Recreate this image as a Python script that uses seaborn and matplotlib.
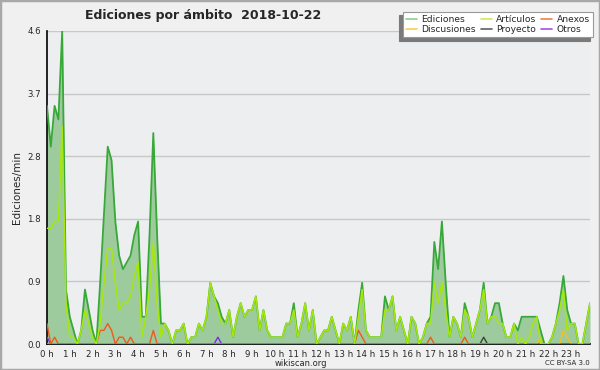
import numpy as np
import pandas as pd
import matplotlib
matplotlib.use('Agg')
import matplotlib.pyplot as plt
from matplotlib.lines import Line2D
from matplotlib.patches import Rectangle
import seaborn as sns

# 10-minute bins over the day, values in edits per minute
ediciones = [3.5, 2.9, 3.5, 3.3, 4.6, 0.8, 0.4, 0.2, 0.0, 0.2, 0.8, 0.5, 0.2, 0.0, 0.9, 1.9, 2.9, 2.7,
             1.8, 1.3, 1.1, 1.2, 1.3, 1.6, 1.8, 0.4, 0.4, 1.6, 3.1, 1.6, 0.3, 0.3, 0.2, 0.0, 0.2, 0.2,
             0.3, 0.0, 0.1, 0.1, 0.3, 0.2, 0.4, 0.9, 0.7, 0.6, 0.4, 0.3, 0.5, 0.1, 0.4, 0.6, 0.4, 0.5,
             0.5, 0.7, 0.2, 0.5, 0.2, 0.1, 0.1, 0.1, 0.1, 0.3, 0.3, 0.6, 0.1, 0.3, 0.6, 0.2, 0.5, 0.0,
             0.1, 0.2, 0.2, 0.4, 0.2, 0.0, 0.3, 0.2, 0.4, 0.0, 0.5, 0.9, 0.2, 0.1, 0.1, 0.1, 0.1, 0.7,
             0.5, 0.7, 0.2, 0.4, 0.2, 0.0, 0.4, 0.3, 0.0, 0.1, 0.3, 0.4, 1.5, 1.1, 1.8, 0.9, 0.1, 0.4,
             0.3, 0.1, 0.6, 0.4, 0.1, 0.3, 0.5, 0.9, 0.3, 0.4, 0.6, 0.6, 0.3, 0.1, 0.1, 0.3, 0.2, 0.4,
             0.4, 0.4, 0.4, 0.4, 0.2, 0.0, 0.0, 0.1, 0.3, 0.6, 1.0, 0.5, 0.3, 0.3, 0.0, 0.0, 0.3, 0.6]
articulos = [1.7, 1.7, 1.8, 1.8, 3.2, 0.6, 0.1, 0.1, 0.0, 0.2, 0.5, 0.3, 0.1, 0.0, 0.3, 0.9, 1.4, 1.4,
             0.9, 0.5, 0.6, 0.6, 0.7, 1.0, 1.2, 0.1, 0.4, 0.8, 1.5, 0.6, 0.1, 0.3, 0.2, 0.0, 0.2, 0.2,
             0.3, 0.0, 0.1, 0.1, 0.3, 0.2, 0.4, 0.9, 0.7, 0.5, 0.3, 0.3, 0.5, 0.1, 0.4, 0.6, 0.4, 0.5,
             0.5, 0.7, 0.2, 0.5, 0.2, 0.1, 0.1, 0.1, 0.1, 0.3, 0.3, 0.5, 0.1, 0.3, 0.6, 0.2, 0.5, 0.0,
             0.1, 0.2, 0.2, 0.4, 0.2, 0.0, 0.3, 0.2, 0.4, 0.0, 0.4, 0.8, 0.2, 0.1, 0.1, 0.1, 0.1, 0.5,
             0.5, 0.7, 0.2, 0.4, 0.2, 0.0, 0.4, 0.3, 0.0, 0.1, 0.3, 0.3, 0.9, 0.6, 0.9, 0.5, 0.1, 0.4,
             0.3, 0.1, 0.5, 0.4, 0.1, 0.3, 0.5, 0.8, 0.3, 0.4, 0.4, 0.3, 0.3, 0.1, 0.1, 0.3, 0.0, 0.1,
             0.0, 0.1, 0.3, 0.4, 0.0, 0.0, 0.0, 0.1, 0.3, 0.5, 0.8, 0.2, 0.3, 0.3, 0.0, 0.0, 0.3, 0.6]
n = len(ediciones)
anexos = [0.0] * n
for k, v in {0: 0.3, 2: 0.1, 14: 0.2, 15: 0.2, 16: 0.3, 17: 0.2, 19: 0.1, 20: 0.1, 22: 0.1,
             28: 0.2, 82: 0.2, 83: 0.1, 101: 0.1, 110: 0.1}.items():
    anexos[k] = v
discusiones = [0.0] * n
for k, v in {130: 0.1, 136: 0.2, 137: 0.1}.items():
    discusiones[k] = v
proyecto = [0.0] * n
proyecto[115] = 0.1
otros = [0.0] * n
otros[0] = 0.1
otros[45] = 0.1

hours = np.arange(n) / 6
names = ['Ediciones', 'Artículos', 'Anexos', 'Discusiones', 'Proyecto', 'Otros']
series = [ediciones, articulos, anexos, discusiones, proyecto, otros]
df = pd.DataFrame({'hora': np.tile(hours, len(names)),
                   'valor': np.concatenate(series),
                   'ambito': np.repeat(names, n)})

line_colors = {'Ediciones': '#38a838', 'Artículos': '#a6e80c', 'Anexos': '#ee5a1c',
               'Discusiones': '#f4c020', 'Proyecto': '#404040', 'Otros': '#7a2ee8'}
legend_colors = {'Ediciones': '#8fd08f', 'Artículos': '#cdec5a', 'Anexos': '#f08050',
                 'Discusiones': '#f8d050', 'Proyecto': '#606060', 'Otros': '#a050f0'}

sns.set_style('white')
plt.rcParams['font.family'] = ['DejaVu Sans']

fig = plt.figure(figsize=(6, 3.7), dpi=100, facecolor='#f0f0f0')
ax = fig.add_axes([47 / 600, 1 - 344 / 370, 543 / 600, 313 / 370])
ax.set_facecolor('#edeef0')

ymax = 4.6
majors = np.linspace(0, ymax, 6)
for y in majors[1:]:
    ax.axhline(y, color='#c8c8c8', lw=1, zorder=0)

ax.fill_between(hours, ediciones, color='#9dcb9d', lw=0, zorder=1)
draw_order = ['Otros', 'Proyecto', 'Discusiones', 'Anexos', 'Ediciones', 'Artículos']
widths = {'Ediciones': 1.3, 'Artículos': 1.1}
for name in draw_order:
    sns.lineplot(data=df[df['ambito'] == name], x='hora', y='valor', ax=ax,
                 color=line_colors[name], lw=widths.get(name, 1.0), zorder=3, legend=False)

ax.set_xlim(0, hours[-1])
ax.set_ylim(0, ymax)
ax.set_xlabel('')
ax.set_ylabel('Ediciones/min', fontsize=7.5, labelpad=4)

ax.set_yticks(majors)
ax.set_yticklabels(['%.1f' % v for v in majors])
ax.set_yticks(np.arange(0, ymax + 0.01, ymax / 20), minor=True)
ax.set_xticks(np.arange(24))
ax.set_xticklabels(['%d h' % h for h in range(24)])
ax.set_xticks(hours, minor=True)
ax.tick_params(axis='both', which='both', direction='out', color='black', width=0.9)
ax.tick_params(axis='both', which='major', length=4, labelsize=6.2, pad=0.5)
ax.tick_params(axis='both', which='minor', length=3.5)

for s in ['top', 'right']:
    ax.spines[s].set_visible(False)
for s in ['left', 'bottom']:
    ax.spines[s].set_color('black')
    ax.spines[s].set_linewidth(1.2)

fig.text(85 / 600, 1 - 15 / 370, 'Ediciones por ámbito  2018-10-22', fontsize=9,
         fontweight='bold', ha='left', va='center')

legend_order = ['Ediciones', 'Discusiones', 'Artículos', 'Proyecto', 'Anexos', 'Otros']
handles = [Line2D([], [], color=legend_colors[nm], lw=1.2) for nm in legend_order]
leg = fig.legend(handles, legend_order, ncol=3, loc='upper right',
                 bbox_to_anchor=(593 / 600, 1 - 12 / 370), fontsize=6.6,
                 frameon=True, fancybox=False, framealpha=1, edgecolor='#999999',
                 handlelength=1.2, handletextpad=0.5, columnspacing=0.5,
                 labelspacing=0.1, borderpad=0.35, borderaxespad=0,
                 shadow={'ox': -2.5, 'oy': -2.5, 'color': '#7a7a7a', 'alpha': 1})
leg.get_frame().set_linewidth(0.8)

fig.text(301 / 600, 1 - 363 / 370, 'wikiscan.org', fontsize=6, ha='center', va='center')
fig.text(590 / 600, 1 - 363 / 370, 'CC BY-SA 3.0', fontsize=5, ha='right', va='center')

fig.patches.append(Rectangle((0, 0), 1, 1, transform=fig.transFigure, fill=False,
                             edgecolor='#a8a8a8', lw=2.5))

fig.savefig('out.png', dpi=100, facecolor=fig.get_facecolor())
